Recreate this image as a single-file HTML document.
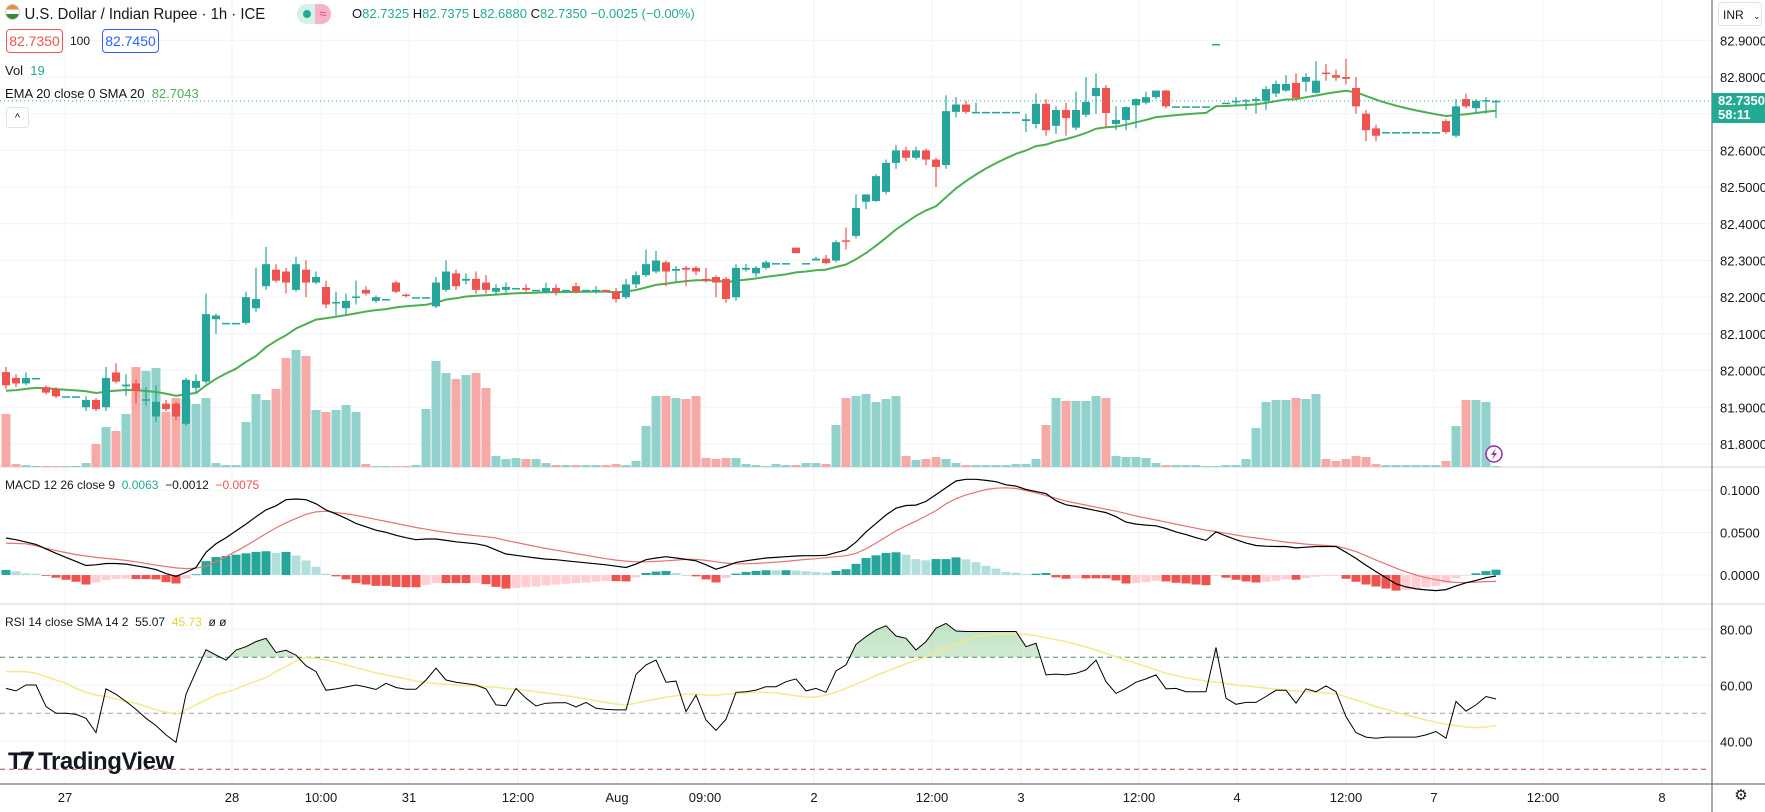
<!DOCTYPE html>
<html><head><meta charset="utf-8">
<style>
html,body{margin:0;padding:0;background:#fff;}
body{width:1765px;height:812px;overflow:hidden;position:relative;font-family:"Liberation Sans",sans-serif;color:#131722;}
svg{position:absolute;left:0;top:0;}
.lg{position:absolute;font-size:13px;white-space:nowrap;}
.box{position:absolute;border:1px solid;border-radius:4px;font-size:14px;padding:3px 0;width:55px;text-align:center;background:#fff;}
</style></head>
<body>
<svg id="chart" width="1765" height="812"></svg>

<div class="lg" style="left:5px;top:4px;font-size:16px;transform:scaleX(0.93);transform-origin:0 0;"><span style="display:inline-block;width:14px;height:14px;border-radius:50%;background:linear-gradient(#ef8a3c 33%,#fff 33%,#fff 66%,#3a8a3a 66%);vertical-align:-1px;margin-right:5px;border:1px solid #ccc"></span>U.S. Dollar / Indian Rupee · 1h · ICE</div>
<div style="position:absolute;left:297px;top:4px;width:34px;height:20px;border-radius:10px;background:#d6f0ec;overflow:hidden"><span style="position:absolute;left:6px;top:6px;width:8px;height:8px;border-radius:50%;background:#22ab94"></span><span style="position:absolute;left:18px;top:0;width:16px;height:20px;background:#f7b3c8;color:#e0467a;font-size:13px;line-height:20px;text-align:center">≈</span></div>
<div class="lg" style="left:352px;top:6px;">O<span style="color:#22ab94">82.7325</span> H<span style="color:#22ab94">82.7375</span> L<span style="color:#22ab94">82.6880</span> C<span style="color:#22ab94">82.7350</span> <span style="color:#22ab94">−0.0025 (−0.00%)</span></div>
<div class="box" style="left:6px;top:29px;border-color:#ef5350;color:#ef5350">82.7350</div>
<div class="lg" style="left:70px;top:34px;font-size:12px">100</div>
<div class="box" style="left:102px;top:29px;border-color:#2962ff;color:#2962ff">82.7450</div>
<div class="lg" style="left:5px;top:63px;">Vol <span style="color:#22ab94">&nbsp;19</span></div>
<div class="lg" style="left:5px;top:86px;">EMA 20 close 0 SMA 20 <span style="color:#4caf50">&nbsp;82.7043</span></div>
<div style="position:absolute;left:6px;top:107px;width:21px;height:19px;border:1px solid #e0e3eb;border-radius:3px;font-size:11px;text-align:center;line-height:20px;background:#fff">^</div>
<div class="lg" style="left:5px;top:478px;font-size:12px">MACD 12 26 close 9 &nbsp;<span style="color:#22ab94">0.0063</span> &nbsp;<span>−0.0012</span> &nbsp;<span style="color:#ef5350">−0.0075</span></div>
<div class="lg" style="left:5px;top:615px;font-size:12px">RSI 14 close SMA 14 2 &nbsp;55.07 &nbsp;<span style="color:#e8d33f">45.73</span> &nbsp;ø ø</div>
<div style="position:absolute;left:1718px;top:2px;width:44px;height:24px;border:1px solid #e0e3eb;border-radius:4px;font-size:12px;line-height:24px;padding-left:4px;box-sizing:border-box">INR <span style="font-size:9px;margin-left:6px">⌄</span></div>
<div style="position:absolute;left:1712px;top:93px;width:53px;height:30px;background:#22ab94;color:#fff;font-size:13px;line-height:14px;padding:1px 0 0 6px;box-sizing:border-box;font-weight:bold">82.7350<br>58:11</div>
<div class="lg" style="left:8px;top:748px;font-size:24px;font-weight:bold;letter-spacing:-0.5px"><span style="font-weight:900;letter-spacing:-2px">T𝟕</span> TradingView</div>
<div style="position:absolute;left:1733px;top:788px;width:16px;height:16px;font-size:15px;line-height:16px;text-align:center;color:#131722">⚙</div>

<script>
// ---------- data ----------
const priceTicks = [82.9,82.8,82.7,82.6,82.5,82.4,82.3,82.2,82.1,82.0,81.9,81.8];
const macdTicks = [0.1,0.05,0];
const rsiTicks = [80,60,40];
const rsiLevels = [70,50,30];
const timeLabels = ["27","28","10:00","31","12:00","Aug","09:00","2","12:00","3","12:00","4","12:00","7","12:00","8"];
const timeTickBars = [5.9,22.6,31.5,40.3,51.2,61.1,69.9,80.8,92.6,101.5,113.3,123.1,134,142.8,153.7,165.6];
const opens = [81.996,81.98,81.965,81.98,81.955,81.95,81.93,81.93,81.90,81.92,
81.90,81.995,81.957,81.965,81.92,81.875,81.91,81.91,81.855,81.953,
81.97,82.14,82.13,82.13,82.13,82.17,82.23,82.275,82.27,82.22,
82.275,82.24,82.228,82.185,82.17,82.20,82.22,82.19,82.195,82.24,
82.207,82.2,82.2,82.175,82.22,82.265,82.245,82.25,82.24,82.215,
82.22,82.225,82.225,82.22,82.215,82.225,82.22,82.23,82.22,82.215,
82.22,82.215,82.20,82.235,82.26,82.27,82.295,82.272,82.28,82.28,
82.25,82.255,82.25,82.20,82.275,82.265,82.28,82.293,82.293,82.335,
82.293,82.30,82.305,82.30,82.355,82.367,82.46,82.462,82.487,82.566,
82.60,82.58,82.60,82.575,82.56,82.705,82.725,82.705,82.705,82.705,
82.705,82.705,82.68,82.672,82.727,82.667,82.71,82.662,82.697,82.748,
82.77,82.672,82.683,82.723,82.73,82.745,82.763,82.72,82.72,82.72,
82.72,82.89,82.73,82.735,82.735,82.735,82.735,82.755,82.763,82.784,
82.787,82.757,82.812,82.805,82.80,82.77,82.70,82.66,82.65,82.65,
82.65,82.65,82.65,82.65,82.68,82.64,82.74,82.715,82.735,82.7325];
const closes = [81.96,81.965,81.98,81.98,81.94,81.93,81.93,81.93,81.92,81.895,
81.98,81.97,81.962,81.945,81.922,81.915,81.895,81.875,81.975,81.972,
82.154,82.15,82.13,82.13,82.20,82.195,82.29,82.245,82.24,82.29,
82.24,82.255,82.18,82.187,82.19,82.202,82.21,82.20,82.195,82.215,
82.203,82.2,82.2,82.24,82.27,82.23,82.25,82.22,82.22,82.225,
82.228,82.225,82.22,82.22,82.225,82.215,82.22,82.215,82.22,82.22,
82.215,82.195,82.235,82.26,82.29,82.30,82.27,82.277,82.275,82.27,
82.245,82.24,82.195,82.28,82.28,82.28,82.295,82.293,82.293,82.32,
82.293,82.305,82.293,82.35,82.352,82.443,82.48,82.53,82.566,82.60,
82.58,82.60,82.575,82.555,82.707,82.725,82.705,82.705,82.705,82.705,
82.705,82.705,82.685,82.727,82.655,82.71,82.688,82.71,82.732,82.77,
82.702,82.683,82.718,82.74,82.745,82.763,82.72,82.72,82.72,82.72,
82.72,82.89,82.73,82.735,82.737,82.74,82.767,82.781,82.781,82.743,
82.80,82.79,82.808,82.798,82.795,82.72,82.655,82.64,82.65,82.65,
82.65,82.65,82.65,82.65,82.65,82.72,82.72,82.735,82.737,82.735];
const highs = [82.01,81.99,81.995,81.98,81.96,81.955,81.93,81.93,81.93,81.925,
82.01,82.02,81.99,81.975,81.955,81.96,81.92,81.915,81.98,81.99,
82.21,82.155,82.13,82.13,82.215,82.28,82.337,82.29,82.28,82.31,
82.30,82.27,82.245,82.215,82.21,82.245,82.23,82.205,82.195,82.245,
82.21,82.2,82.2,82.255,82.30,82.275,82.265,82.27,82.26,82.235,
82.24,82.225,82.235,82.22,82.24,82.235,82.22,82.24,82.22,82.23,
82.22,82.225,82.25,82.27,82.33,82.326,82.30,82.285,82.285,82.285,
82.28,82.26,82.255,82.29,82.29,82.285,82.30,82.293,82.293,82.335,
82.293,82.31,82.315,82.355,82.39,82.48,82.48,82.535,82.575,82.615,
82.61,82.61,82.605,82.58,82.75,82.745,82.735,82.73,82.705,82.705,
82.705,82.705,82.70,82.755,82.74,82.72,82.73,82.76,82.80,82.81,
82.778,82.72,82.72,82.742,82.76,82.763,82.765,82.72,82.72,82.72,
82.72,82.89,82.73,82.745,82.74,82.745,82.775,82.79,82.805,82.81,
82.81,82.843,82.835,82.82,82.85,82.80,82.71,82.67,82.65,82.65,
82.65,82.65,82.65,82.65,82.685,82.74,82.755,82.74,82.745,82.7375];
const lows = [81.95,81.955,81.96,81.98,81.935,81.925,81.93,81.93,81.89,81.89,
81.89,81.965,81.93,81.91,81.905,81.86,81.89,81.865,81.85,81.94,
81.965,82.10,82.13,82.13,82.125,82.16,82.22,82.24,82.21,82.215,
82.20,82.235,82.17,82.15,82.15,82.18,82.205,82.185,82.195,82.21,
82.2,82.2,82.2,82.17,82.215,82.22,82.235,82.21,82.21,82.205,
82.21,82.225,82.215,82.22,82.21,82.205,82.22,82.21,82.22,82.21,
82.215,82.185,82.195,82.225,82.255,82.265,82.23,82.24,82.23,82.26,
82.24,82.20,82.185,82.19,82.27,82.255,82.275,82.293,82.293,82.32,
82.293,82.30,82.29,82.295,82.33,82.36,82.44,82.46,82.48,82.55,
82.57,82.575,82.56,82.50,82.55,82.69,82.70,82.705,82.705,82.705,
82.705,82.705,82.65,82.66,82.64,82.645,82.64,82.655,82.69,82.70,
82.66,82.655,82.655,82.66,82.725,82.74,82.715,82.72,82.72,82.72,
82.72,82.89,82.73,82.72,82.71,82.70,82.71,82.745,82.76,82.74,
82.76,82.755,82.79,82.79,82.78,82.70,82.625,82.625,82.65,82.65,
82.65,82.65,82.65,82.65,82.645,82.635,82.715,82.70,82.70,82.688];
const volumes = [53,3,2,1,1,1,1,1,4,23,
40,36,53,100,96,99,55,69,68,63,
69,4,2,2,45,73,67,78,109,117,
111,57,55,57,62,55,3,1,1,1,
1,2,58,106,94,88,92,94,79,11,
8,9,8,8,4,2,2,2,2,2,
2,3,2,6,41,71,71,69,68,71,
9,8,9,9,3,2,1,3,2,2,
4,4,3,42,69,71,73,65,68,71,
11,7,8,10,8,4,2,2,2,2,
2,3,3,8,42,69,66,66,66,71,
69,11,10,10,9,4,2,2,2,2,
1,1,2,2,8,39,65,67,67,69,
68,73,8,6,8,11,10,3,2,2,
2,2,2,2,6,41,67,67,65,1];
const macdLine = [.0436,.0416,.0388,.036,.0308,.0256,.0208,.016,.0112,.012,
.0136,.0136,.0128,.0108,.0088,.0064,.0016,-.0016,.0032,.0088,
.0268,.0368,.044,.052,.06,.0688,.0768,.0816,.0888,.0896,
.0888,.084,.0768,.072,.0668,.0608,.0568,.0528,.0504,.0468,
.044,.0416,.0424,.0424,.0408,.0392,.038,.0368,.0344,.0296,
.0248,.0232,.0216,.02,.0188,.018,.0168,.0156,.0144,.0132,
.012,.0104,.0088,.0128,.018,.02,.0216,.02,.0184,.0168,
.012,.0068,.0104,.0148,.0168,.0184,.02,.0208,.0216,.0224,
.0228,.0228,.0232,.0264,.0296,.0388,.0508,.0608,.0708,.0788,
.082,.0824,.0868,.0948,.1028,.1108,.1128,.1128,.1116,.11,
.1064,.1048,.1008,.0984,.096,.0876,.0828,.0808,.0784,.076,
.0736,.0688,.0624,.06,.0588,.058,.0548,.0508,.0476,.044,
.0408,.0508,.046,.0416,.0376,.0348,.034,.0336,.0336,.032,
.0328,.0336,.0336,.0336,.0268,.0196,.0116,.004,-.0032,-.0104,
-.014,-.0164,-.0176,-.0184,-.0172,-.0128,-.0092,-.0064,-.0032,-.0012];
const signalLine = [.0376,.0372,.0368,.0344,.0316,.0288,.0264,.024,.0224,.0208,
.0196,.0184,.0172,.0156,.0136,.0116,.01,.0084,.0076,.008,
.0104,.0156,.0216,.028,.0344,.0416,.0488,.0556,.0616,.0668,
.0716,.0744,.0752,.0736,.072,.0704,.068,.0656,.0632,.0608,
.0584,.056,.054,.052,.0504,.0488,.0476,.0464,.0452,.0436,
.0408,.0384,.036,.0336,.0312,.0292,.0272,.0252,.0232,.0212,
.0192,.0176,.0164,.0156,.0156,.016,.0168,.0176,.0184,.0184,
.0172,.0156,.014,.0132,.0132,.0136,.0144,.0152,.016,.0172,
.0184,.0192,.0204,.0216,.0228,.0256,.0308,.0376,.0448,.052,
.058,.0636,.0696,.076,.084,.09,.0944,.0976,.1008,.1024,
.1028,.102,.0996,.0968,.0936,.0904,.0872,.0848,.0824,.08,
.0776,.0752,.0724,.0696,.0672,.0648,.0624,.06,.0576,.0552,
.0528,.0512,.0492,.0472,.0452,.0436,.042,.0404,.0388,.0376,
.0364,.0356,.0348,.034,.0312,.0276,.0228,.0176,.0128,.008,
.0036,0,-.0032,-.0056,-.0076,-.0088,-.0088,-.0084,-.0078,-.0075];
const rsiLine = [58.9,58.0,60.1,60.1,52.4,50.0,50.0,49.6,48.2,43.1,
58.7,56.8,54.2,51.4,48.2,45.6,42.3,39.6,56.8,64.9,
72.7,70.8,69.0,72.6,73.8,75.6,76.8,71.7,72.5,70.8,
67.0,64.9,58.2,58.7,59.4,60.1,59.4,58.5,60.7,59.2,
58.6,58.6,61.9,66.1,61.9,61.1,60.6,60.1,58.7,53.0,
52.7,58.9,55.4,52.6,53.6,53.8,53.8,52.3,53.9,51.8,
51.4,51.2,51.2,63.9,67.3,69.0,61.1,61.5,50.6,56.5,
47.6,43.9,47.9,57.5,57.7,58.3,59.5,59.5,61.3,62.3,
58.0,58.9,57.5,65.1,67.3,74.6,77.4,79.8,81.3,77.6,
76.8,72.6,75.6,80.4,82.1,79.4,79.2,79.2,79.2,79.2,
79.2,79.2,73.8,75.0,63.7,64.0,63.7,64.3,65.5,69.0,
61.3,57.1,58.9,61.1,62.3,63.7,58.7,58.9,57.7,57.7,
57.7,73.5,55.4,53.2,53.9,53.9,56.0,58.2,58.2,53.6,
58.7,57.7,59.8,57.7,48.8,43.1,41.5,41.1,41.5,41.5,
41.5,41.5,42.3,43.5,41.1,54.2,50.8,53.0,56.0,55.1];
const rsiMa = [64.9,64.9,64.9,64.3,63.1,61.9,60.7,58.9,57.5,56.5,
56.0,55.1,54.2,53.6,52.4,51.2,50.4,49.6,51.2,53.0,
54.8,56.5,57.5,58.7,60.1,61.5,62.7,64.9,66.7,68.7,
69.9,69.6,69.0,68.2,67.3,66.3,65.4,64.4,63.7,63.0,
62.3,61.5,61.1,60.6,60.4,60.1,59.9,59.6,59.5,59.3,
58.9,58.6,58.2,57.7,57.3,56.8,56.3,55.7,55.1,54.5,
53.9,53.3,53.0,53.6,54.4,55.1,55.8,56.3,56.8,56.8,
56.5,56.5,56.8,57.0,57.3,57.5,57.5,57.3,56.8,56.3,
55.8,55.8,56.5,57.5,58.9,60.4,61.9,63.5,64.9,66.3,
67.7,68.9,70.2,71.7,73.2,74.6,76.2,77.4,78.0,78.2,
78.2,78.2,78.2,77.7,77.0,76.3,75.6,74.6,73.7,72.6,
71.4,70.2,68.9,67.9,66.7,65.5,64.3,63.5,62.7,62.1,
61.5,61.1,60.7,60.1,59.8,59.4,59.0,58.7,58.2,58.0,
57.7,57.5,57.3,57.0,55.9,54.8,53.6,52.4,51.4,50.4,
49.4,48.5,47.6,46.8,46.1,45.6,45.1,44.9,45.1,45.7];

// ---------- scales ----------
const NS = 'http://www.w3.org/2000/svg';
const svg = document.getElementById('chart');
const PLOT_R = 1712, AXIS_Y = 784;
const xBar = i => 6 + i * 10;
const yPrice = p => 444 - (p - 81.8) * 367;
const yMacd = v => 575 - v * 848;
const yRsi = v => 741.3 - (v - 40) * 2.8;
const yVolBase = 467;
function mk(tag, attrs, parent) {
  const e = document.createElementNS(NS, tag);
  for (const k in attrs) e.setAttribute(k, attrs[k]);
  (parent || svg).appendChild(e);
  return e;
}
const fmtP = v => v.toFixed(4);

// ---------- grid ----------
const grid = mk('g', {});


timeTickBars.forEach((b, k) => {
  const x = xBar(b);
  const l = mk('line', {x1: x, x2: x, y1: 0, y2: AXIS_Y, stroke: '#f0f3fa', 'stroke-width': 1}, grid);
  
  
  const t = mk('text', {x: x, y: 802, 'text-anchor': 'middle', 'font-size': 13, fill: '#131722', 'font-family': 'Liberation Sans, sans-serif'});
  t.textContent = timeLabels[k];
  
  
});
priceTicks.forEach(p => {
  const y = yPrice(p);
  const l = mk('line', {x1: 0, x2: PLOT_R, y1: y, y2: y, stroke: '#f0f3fa'}, grid);
  
  
  if (Math.abs(y - 108) > 16) {
    const t = mk('text', {x: 1720, y: y + 5, 'font-size': 13, fill: '#131722', 'font-family': 'Liberation Sans, sans-serif'});
    t.textContent = fmtP(p);
    
    
  }
});
macdTicks.forEach(v => {
  const y = yMacd(v);
  const l = mk('line', {x1: 0, x2: PLOT_R, y1: y, y2: y, stroke: '#f0f3fa'}, grid);
  
  
  const t = mk('text', {x: 1720, y: y + 5, 'font-size': 13, fill: '#131722', 'font-family': 'Liberation Sans, sans-serif'});
  t.textContent = v.toFixed(4);
  
  
});
rsiTicks.forEach(v => {
  const y = yRsi(v);
  const l = mk('line', {x1: 0, x2: PLOT_R, y1: y, y2: y, stroke: '#f0f3fa'}, grid);
  
  
  const t = mk('text', {x: 1720, y: y + 5, 'font-size': 13, fill: '#131722', 'font-family': 'Liberation Sans, sans-serif'});
  t.textContent = v.toFixed(2);
  
  
});
[467, 604].forEach(y => {
  const l = mk('line', {x1: 0, x2: 1765, y1: y, y2: y, stroke: '#e0e3eb', 'stroke-width': 1.5});
  
  
});
const ax = mk('line', {x1: PLOT_R, x2: PLOT_R, y1: 0, y2: 812, stroke: '#50535e'});


const tx = mk('line', {x1: 0, x2: 1765, y1: AXIS_Y, y2: AXIS_Y, stroke: '#50535e'});



// ---------- volume ----------
const volG = mk('g', {});


volumes.forEach((v, i) => {
  const up = closes[i] >= opens[i];
  const r = mk('rect', {x: xBar(i) - 4.5, y: yVolBase - v, width: 9, height: v, fill: up ? '#92d2cc' : '#f7a9a7'}, volG);
  
  
});

// ---------- EMA 20 ----------
let ema = 81.945, pts = [];
closes.forEach((c, i) => { ema = i === 0 ? ema : ema + (c - ema) * 2 / 21; pts.push(xBar(i) + ',' + yPrice(ema).toFixed(1)); });
const emaL = mk('polyline', {points: pts.join(' '), fill: 'none', stroke: '#4caf50', 'stroke-width': 2});



// ---------- candles ----------
const cG = mk('g', {});


closes.forEach((c, i) => {
  const o = opens[i], up = c >= o, col = up ? '#26a69a' : '#ef5350', x = xBar(i);
  const g = mk('g', {}, cG);
  
  
  mk('line', {x1: x, x2: x, y1: yPrice(highs[i]), y2: yPrice(lows[i]), stroke: col, 'stroke-width': 1.2}, g);
  const top = yPrice(Math.max(o, c)), h = Math.max(1.5, yPrice(Math.min(o, c)) - top);
  mk('rect', {x: x - 4, y: top, width: 8, height: h, fill: col}, g);
});
const cur = mk('line', {x1: 0, x2: PLOT_R, y1: yPrice(closes[closes.length - 1]), y2: yPrice(closes[closes.length - 1]), stroke: '#22ab94', 'stroke-dasharray': '1 3'});


const bolt = mk('g', {});


mk('circle', {cx: 1494, cy: 454, r: 8, fill: '#fff', stroke: '#9c27b0', 'stroke-width': 1.5}, bolt);
mk('path', {d: 'M1496 448 L1491 455 L1494 455 L1492 460 L1497 453 L1494 453 Z', fill: '#9c27b0'}, bolt);

// ---------- MACD ----------
const hG = mk('g', {});


let prevH = 0;
macdLine.forEach((m, i) => {
  const h = m - signalLine[i];
  let col;
  if (h >= 0) col = h >= prevH ? '#26a69a' : '#b2dfdb'; else col = h <= prevH ? '#ef5350' : '#ffcdd2';
  prevH = h;
  const y0 = yMacd(0), y1 = yMacd(h);
  const r = mk('rect', {x: xBar(i) - 4.5, y: Math.min(y0, y1), width: 9, height: Math.max(0.8, Math.abs(y1 - y0)), fill: col}, hG);
  
  
});
const sigL = mk('polyline', {points: signalLine.map((v, i) => xBar(i) + ',' + yMacd(v).toFixed(1)).join(' '), fill: 'none', stroke: '#e57373', 'stroke-width': 1.2});


const macL = mk('polyline', {points: macdLine.map((v, i) => xBar(i) + ',' + yMacd(v).toFixed(1)).join(' '), fill: 'none', stroke: '#000', 'stroke-width': 1.2});



// ---------- RSI ----------
const lvlCol = ['#4e8d5e', '#a0a3ab', '#b2474a'];
rsiLevels.forEach((v, k) => {
  const l = mk('line', {x1: 0, x2: PLOT_R - 4, y1: yRsi(v), y2: yRsi(v), stroke: lvlCol[k], 'stroke-dasharray': '5 4'});
  
  
});
const defs = mk('defs', {});
const gr = mk('linearGradient', {id: 'obg', x1: 0, y1: 0, x2: 0, y2: 1}, defs);
mk('stop', {offset: '0', 'stop-color': '#4caf50', 'stop-opacity': 0.35}, gr);
mk('stop', {offset: '1', 'stop-color': '#4caf50', 'stop-opacity': 0.02}, gr);
const cp = mk('clipPath', {id: 'ob'}, defs);
mk('rect', {x: 0, y: 604, width: PLOT_R, height: yRsi(70) - 604}, cp);
const rsiPts = rsiLine.map((v, i) => xBar(i) + ',' + yRsi(v).toFixed(1));
const fill = mk('polygon', {points: xBar(0) + ',' + yRsi(70) + ' ' + rsiPts.join(' ') + ' ' + xBar(rsiLine.length - 1) + ',' + yRsi(70), fill: 'url(#obg)', 'clip-path': 'url(#ob)'});


const maL = mk('polyline', {points: rsiMa.map((v, i) => xBar(i) + ',' + yRsi(v).toFixed(1)).join(' '), fill: 'none', stroke: '#f5e98a', 'stroke-width': 1.5});


const rL = mk('polyline', {points: rsiPts.join(' '), fill: 'none', stroke: '#000', 'stroke-width': 1});


</script>
</body></html>
